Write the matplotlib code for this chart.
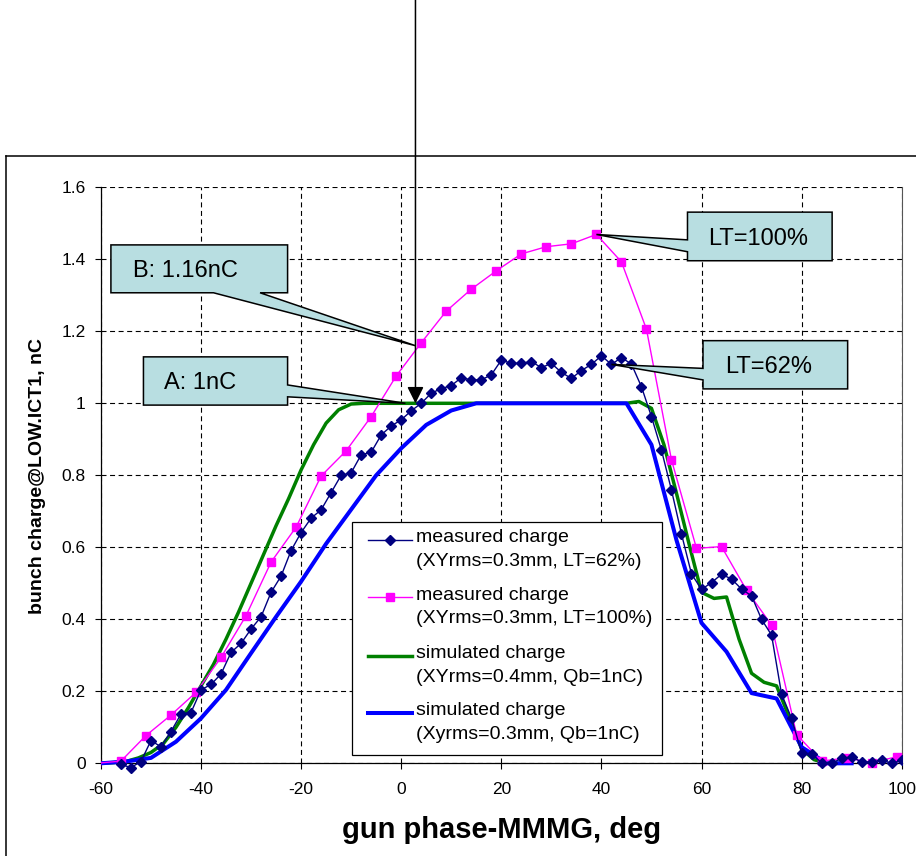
import numpy as np
import matplotlib
matplotlib.use('Agg')
import matplotlib.pyplot as plt
import matplotlib.transforms as mtransforms
from matplotlib.patches import Polygon, Rectangle
from matplotlib.lines import Line2D
from matplotlib.ticker import FormatStrFormatter, MultipleLocator

plt.rcParams['font.family'] = ['Liberation Sans', 'DejaVu Sans']

# measured bunch charge, XYrms=0.3mm, LT=62% (2 deg scan step)
phase_lt62 = np.arange(-56, 101, 2)
charge_lt62 = [-0.003, -0.012, 0.005, 0.063, 0.046, 0.088, 0.137, 0.141, 0.204, 0.219,
               0.248, 0.308, 0.333, 0.373, 0.407, 0.475, 0.520, 0.591, 0.641, 0.681,
               0.704, 0.752, 0.800, 0.807, 0.857, 0.864, 0.912, 0.937, 0.954, 0.979,
               1.000, 1.028, 1.041, 1.049, 1.071, 1.065, 1.065, 1.079, 1.120, 1.111,
               1.111, 1.116, 1.099, 1.111, 1.086, 1.069, 1.091, 1.108, 1.132, 1.108,
               1.127, 1.109, 1.046, 0.963, 0.870, 0.759, 0.637, 0.526, 0.483, 0.502,
               0.525, 0.512, 0.484, 0.465, 0.400, 0.356, 0.192, 0.125, 0.029, 0.025,
               0.002, 0.000, 0.014, 0.017, 0.004, 0.003, 0.009, 0.000, 0.008]

# measured bunch charge, XYrms=0.3mm, LT=100% (5 deg scan step)
phase_lt100 = np.arange(-61, 105, 5)
charge_lt100 = [0.000, 0.006, 0.077, 0.134, 0.197, 0.294, 0.410, 0.559, 0.656, 0.798,
                0.868, 0.963, 1.076, 1.168, 1.256, 1.317, 1.368, 1.415, 1.435, 1.443,
                1.469, 1.393, 1.206, 0.843, 0.597, 0.602, 0.481, 0.384, 0.080, 0.006,
                0.015, 0.002, 0.018, 0.005]

# simulated charge, XYrms=0.4mm, Qb=1nC
phase_sim04 = np.arange(-60, 88.5, 2.5)
charge_sim04 = [0.000, 0.002, 0.005, 0.015, 0.030, 0.055, 0.100, 0.155, 0.215, 0.275,
                0.345, 0.420, 0.500, 0.580, 0.660, 0.735, 0.815, 0.885, 0.945, 0.982,
                0.998, 1.000,
                1.0, 1.0, 1.0, 1.0, 1.0, 1.0, 1.0, 1.0, 1.0, 1.0, 1.0,
                1.0, 1.0, 1.0, 1.0, 1.0, 1.0, 1.0, 1.0, 1.0, 1.0,
                1.005, 0.986, 0.885, 0.750, 0.610, 0.475, 0.458, 0.462, 0.345, 0.250,
                0.225, 0.215, 0.130, 0.040, 0.010, 0.000, 0.000]

# simulated charge, Xyrms=0.3mm, Qb=1nC
phase_sim03 = np.arange(-60, 91, 5)
charge_sim03 = [0.000, 0.005, 0.015, 0.060, 0.125, 0.204, 0.306, 0.407, 0.505, 0.610,
                0.705, 0.800, 0.875, 0.940, 0.980, 1.000, 1.000, 1.000, 1.000, 1.000,
                1.000, 1.000, 0.885, 0.620, 0.390, 0.310, 0.195, 0.180, 0.045, 0.000,
                0.000]

labels = [('measured charge', '(XYrms=0.3mm, LT=62%)'),
          ('measured charge', '(XYrms=0.3mm, LT=100%)'),
          ('simulated charge', '(XYrms=0.4mm, Qb=1nC)'),
          ('simulated charge', '(Xyrms=0.3mm, Qb=1nC)')]

# phase of the marked operating point and the two charges read there
phase_A = 2.85
charge_A = 1.0
charge_B = 1.16

W, H = 916, 856
fig = plt.figure(figsize=(W / 100, H / 100), dpi=100)
ax = fig.add_axes([100.9 / W, (H - 763.3) / H, (901.7 - 100.9) / W, (763.3 - 187.3) / H])

# clip box slightly taller than the axes so points at zero show whole
clip_box = Rectangle((0, -0.03), 1, 1.06, transform=ax.transAxes, fill=False, visible=False)
ax.add_patch(clip_box)

styles = [dict(color='#000080', lw=1.0, marker='D', ms=4.7, mec='#000080'),
          dict(color='#FF00FF', lw=1.0, marker='s', ms=5.8, mec='#FF00FF'),
          dict(color='#008000', lw=2.5),
          dict(color='#0000FF', lw=2.9)]

l_sim04, = ax.plot(phase_sim04, charge_sim04, zorder=3, **styles[2])
l_sim03, = ax.plot(phase_sim03, charge_sim03, zorder=3.1, **styles[3])
l_lt100, = ax.plot(phase_lt100, charge_lt100, zorder=4, **styles[1])
l_lt62, = ax.plot(phase_lt62, charge_lt62, zorder=4.1, **styles[0])
for ln in (l_sim04, l_sim03, l_lt100, l_lt62):
    ln.set_clip_path(clip_box)

ax.set_xlim(-60, 100)
ax.set_ylim(0, 1.6)
ax.xaxis.set_major_locator(MultipleLocator(20))
ax.yaxis.set_major_locator(MultipleLocator(0.2))
ax.yaxis.set_major_formatter(FormatStrFormatter('%g'))
ax.xaxis.set_major_formatter(FormatStrFormatter('%g'))
ax.grid(True, color='black', linestyle=(0, (4.5, 3.2)), lw=0.8)
ax.set_axisbelow(True)
ax.spines['top'].set_visible(False)
ax.spines['right'].set_color('#555555')
ax.spines['right'].set_linewidth(0.8)
ax.spines['left'].set_linewidth(0.9)
ax.spines['bottom'].set_linewidth(0.9)
ax.tick_params(axis='both', direction='out', length=4.5, width=0.8, labelsize=12.5)
ax.tick_params(axis='y', pad=6.5)
ax.tick_params(axis='x', pad=9)

fig.text(501.3 / W, (H - 830) / H, 'gun phase-MMMG, deg', fontsize=21,
         fontweight='bold', ha='center', va='center')
fig.text(38 / W, (H - 476) / H, 'bunch charge@LOW.ICT1, nC', fontsize=14,
         fontweight='bold', rotation=90, ha='center', va='center')

# legend box drawn by hand (handle sits on the first line of each entry)
fig.add_artist(Rectangle((351.7 / W, (H - 755) / H), (661.7 - 351.7) / W, (755 - 521.7) / H,
                         transform=fig.transFigure, facecolor='white', edgecolor='black',
                         lw=0.9, zorder=5))
entry_top = [538, 595, 654, 710.7]
for (l1, l2), st, yt in zip(labels, styles, entry_top):
    yh = (H - yt - 2) / H
    fig.add_artist(Line2D([368 / W, 411.7 / W], [yh, yh], transform=fig.transFigure,
                          color=st['color'], lw=st['lw'], zorder=6))
    if 'marker' in st:
        fig.add_artist(Line2D([390 / W], [yh], transform=fig.transFigure, ls='none',
                              marker=st['marker'], ms=st['ms'], color=st['color'], zorder=6))
    fig.text(416 / W, (H - yt) / H, l1, fontsize=14, ha='left', va='center', zorder=6)
    fig.text(416 / W, (H - yt - 23.7) / H, l2, fontsize=14, ha='left', va='center', zorder=6)

# callouts
box_fill = '#B8DEE1'
i39 = list(phase_lt100).index(39)
i42 = list(phase_lt62).index(42)
callouts = [
    ('B: 1.16nC', (-53.6, 1.368),
     [(-58, 1.44), (-22.7, 1.44), (-22.7, 1.307), (-28.2, 1.307),
      (phase_A, charge_B), (-37.5, 1.307), (-58, 1.307)]),
    ('A: 1nC', (-47.4, 1.056),
     [(-51.5, 1.129), (-22.7, 1.129), (-22.7, 1.051), (phase_A - 2.0, charge_A),
      (-22.7, 1.018), (-22.7, 0.995), (-51.5, 0.995)]),
    ('LT=100%', (61.4, 1.456),
     [(57.2, 1.531), (86.1, 1.531), (86.1, 1.396), (57.2, 1.396), (57.2, 1.421),
      (phase_lt100[i39], charge_lt100[i39]), (57.2, 1.454)]),
    ('LT=62%', (64.75, 1.10),
     [(60.3, 1.174), (89.2, 1.174), (89.2, 1.04), (60.3, 1.04), (60.3, 1.065),
      (phase_lt62[i42], charge_lt62[i42]), (60.3, 1.097)]),
]
for txt, pos, verts in callouts:
    ax.add_patch(Polygon(verts, closed=True, facecolor=box_fill, edgecolor='black',
                         lw=1.1, zorder=6, clip_on=False))
    ax.text(pos[0], pos[1], txt, fontsize=17, ha='left', va='center', zorder=7)

# vertical arrow from the top of the page down to the working point
tr = mtransforms.blended_transform_factory(ax.transData, fig.transFigure)
ax.annotate('', xy=(phase_A, charge_A), xytext=(phase_A, 1.0), textcoords=tr,
            arrowprops=dict(arrowstyle='-|>', color='black', lw=1.1,
                            mutation_scale=25, shrinkA=0, shrinkB=0),
            annotation_clip=False, zorder=8)

# chart area border
fig.add_artist(Line2D([6 / W, 1], [(H - 156) / H] * 2, transform=fig.transFigure,
                      color='black', lw=1.1))
fig.add_artist(Line2D([6 / W, 6 / W], [0, (H - 156) / H], transform=fig.transFigure,
                      color='black', lw=1.1))

fig.savefig('out.png', dpi=100)
